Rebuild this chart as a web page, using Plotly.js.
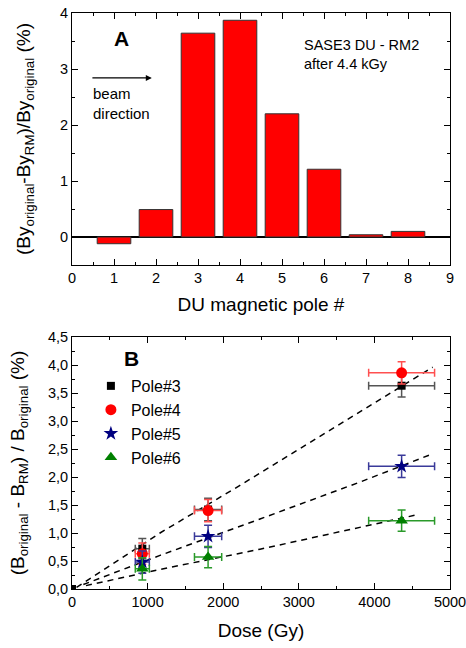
<!DOCTYPE html>
<html>
<head>
<meta charset="utf-8">
<script src="https://cdn.plot.ly/plotly-3.0.1.min.js"></script>
<style>html,body{margin:0;padding:0;background:#fff;}#chart{width:466px;height:648px;}</style>
</head>
<body>
<div id="chart"></div>
<script>
// ---- Panel A data ----
const poles = [1, 2, 3, 4, 5, 6, 7, 8];
const poleChange = [-0.12, 0.49, 3.64, 3.87, 2.20, 1.21, 0.04, 0.10];

// ---- Panel B data ----
const dose3 = [0, 930, 1800, 4360];
const pole3 = [0, 0.72, 1.42, 3.63];
const pole3Err = [0, 0.18, 0.20, 0.20];
const dose3Err = [0, 93, 180, 436];

const dose4 = [930, 1800, 4360];
const pole4 = [0.63, 1.40, 3.86];
const pole4Err = [0.19, 0.20, 0.20];
const dose4Err = [93, 180, 436];

const dose5 = [930, 1800, 4360];
const pole5 = [0.48, 0.94, 2.19];
const pole5Err = [0.20, 0.20, 0.20];
const dose5Err = [93, 180, 436];

const dose6 = [930, 1800, 4360];
const pole6 = [0.36, 0.57, 1.22];
const pole6Err = [0.20, 0.19, 0.19];
const dose6Err = [93, 180, 436];

// dashed fit lines
const fit1X = [60, 1164, 2222, 3810, 4771];
const fit1Y = [0.03, 1.00, 1.85, 3.17, 3.96];
const fit2X = [150, 1164, 2487, 3810, 4780];
const fit2Y = [0.08, 0.60, 1.25, 1.91, 2.42];
const fit3X = [185, 1164, 2487, 3810, 4581];
const fit3Y = [0.06, 0.35, 0.71, 1.11, 1.33];

const FONT = 'Arial, "Liberation Sans", sans-serif';

const traces = [
  {type: 'bar', x: poles, y: poleChange, width: 0.8, xaxis: 'x', yaxis: 'y',
   marker: {color: '#ff0000', line: {color: '#333333', width: 1}}, showlegend: false},
  {type: 'scatter', mode: 'lines', x: fit1X, y: fit1Y, xaxis: 'x2', yaxis: 'y2',
   line: {color: '#000', width: 1.5, dash: '6px,5px'}, showlegend: false, hoverinfo: 'skip'},
  {type: 'scatter', mode: 'lines', x: fit2X, y: fit2Y, xaxis: 'x2', yaxis: 'y2',
   line: {color: '#000', width: 1.5, dash: '6px,5px'}, showlegend: false, hoverinfo: 'skip'},
  {type: 'scatter', mode: 'lines', x: fit3X, y: fit3Y, xaxis: 'x2', yaxis: 'y2',
   line: {color: '#000', width: 1.5, dash: '6px,5px'}, showlegend: false, hoverinfo: 'skip'},
  {type: 'scatter', mode: 'markers', name: 'Pole#3', x: dose3, y: pole3, xaxis: 'x2', yaxis: 'y2',
   marker: {symbol: 'square', size: 8, color: '#000000'},
   error_y: {type: 'data', array: pole3Err, color: '#555555', thickness: 1.5, width: 4},
   error_x: {type: 'data', array: dose3Err, color: '#555555', thickness: 1.5, width: 4}},
  {type: 'scatter', mode: 'markers', name: 'Pole#4', x: dose4, y: pole4, xaxis: 'x2', yaxis: 'y2',
   marker: {symbol: 'circle', size: 11, color: '#ff0000'},
   error_y: {type: 'data', array: pole4Err, color: '#ff5050', thickness: 1.5, width: 4},
   error_x: {type: 'data', array: dose4Err, color: '#ff5050', thickness: 1.5, width: 4}},
  {type: 'scatter', mode: 'markers', name: 'Pole#5', x: dose5, y: pole5, xaxis: 'x2', yaxis: 'y2',
   marker: {symbol: 'star', size: 11, color: '#000080'},
   error_y: {type: 'data', array: pole5Err, color: '#3a3a9a', thickness: 1.5, width: 4},
   error_x: {type: 'data', array: dose5Err, color: '#3a3a9a', thickness: 1.5, width: 4}},
  {type: 'scatter', mode: 'markers', name: 'Pole#6', x: dose6, y: pole6, xaxis: 'x2', yaxis: 'y2',
   marker: {symbol: 'triangle-up', size: 11, color: '#008000'},
   error_y: {type: 'data', array: pole6Err, color: '#2a9a2a', thickness: 1.5, width: 4},
   error_x: {type: 'data', array: dose6Err, color: '#2a9a2a', thickness: 1.5, width: 4}}
];

const axBase = {
  showline: true, linecolor: '#000', linewidth: 1, mirror: 'ticks',
  ticks: 'inside', ticklen: 6, tickwidth: 1, tickcolor: '#000',
  showgrid: false, zeroline: false, ticklabeloverflow: 'allow',
  tickfont: {family: FONT, size: 14.5, color: '#000'}
};
const titleFont = {family: FONT, size: 19, color: '#000'};

const layout = {
  width: 466, height: 648,
  margin: {l: 72, r: 16, t: 13, b: 59},
  paper_bgcolor: '#fff', plot_bgcolor: '#fff',
  font: {family: FONT, color: '#000'},
  separators: ',.',
  showlegend: true,
  legend: {x: 0.05, y: 0.382, xanchor: 'left', yanchor: 'top', bgcolor: 'rgba(0,0,0,0)',
           font: {family: FONT, size: 16, color: '#000'}},
  xaxis: Object.assign({}, axBase, {
    domain: [0, 1], anchor: 'y', range: [0, 9], dtick: 1, tick0: 0,
    minor: {dtick: 0.5, ticks: 'inside', ticklen: 3, tickcolor: '#000'},
    title: {text: 'DU magnetic pole #', font: titleFont, standoff: 12}
  }),
  yaxis: Object.assign({}, axBase, {
    domain: [0.5625, 1], anchor: 'x', range: [-0.5, 4], dtick: 1, tick0: 0,
    zeroline: true, zerolinecolor: '#000', zerolinewidth: 1.5,
    minor: {dtick: 0.5, ticks: 'inside', ticklen: 3, tickcolor: '#000'},
    title: {text: '(By<sub>original</sub>-By<sub>RM</sub>)/By<sub>original</sub> (%)',
            font: titleFont, standoff: 24}
  }),
  xaxis2: Object.assign({}, axBase, {
    domain: [0, 1], anchor: 'y2', range: [0, 5000], dtick: 1000, tick0: 0,
    minor: {dtick: 500, ticks: 'inside', ticklen: 3, tickcolor: '#000'},
    title: {text: 'Dose (Gy)', font: titleFont, standoff: 14}
  }),
  yaxis2: Object.assign({}, axBase, {
    domain: [0, 0.4375], anchor: 'x2', range: [0, 4.5], dtick: 0.5, tick0: 0, tickformat: '.1f',
    minor: {dtick: 0.25, ticks: 'inside', ticklen: 3, tickcolor: '#000'},
    title: {text: '(B<sub>original</sub> - B<sub>RM</sub>) / B<sub>original</sub> (%)',
            font: titleFont, standoff: 18}
  }),
  annotations: [
    {xref: 'x', yref: 'y', x: 1.19, y: 3.55, text: '<b>A</b>', showarrow: false,
     font: {family: FONT, size: 21, color: '#000'}},
    {xref: 'x', yref: 'y', x: 5.48, y: 3.26, xanchor: 'left', align: 'left',
     text: 'SASE3 DU - RM2<br>after 4.4 kGy', showarrow: false,
     font: {family: FONT, size: 14.5, color: '#000'}},
    {xref: 'x', yref: 'y', x: 1.9, y: 2.84, ax: 0.45, ay: 2.84, axref: 'x', ayref: 'y',
     text: '', showarrow: true, arrowhead: 2, arrowsize: 1, arrowwidth: 1.2, arrowcolor: '#000'},
    {xref: 'x', yref: 'y', x: 0.45, y: 2.38, xanchor: 'left', align: 'left',
     text: 'beam<br>direction', showarrow: false,
     font: {family: FONT, size: 15, color: '#000'}},
    {xref: 'x2', yref: 'y2', x: 793, y: 4.12, text: '<b>B</b>', showarrow: false,
     font: {family: FONT, size: 21, color: '#000'}}
  ]
};

Plotly.newPlot('chart', traces, layout, {displayModeBar: false, staticPlot: true});
</script>
</body>
</html>
